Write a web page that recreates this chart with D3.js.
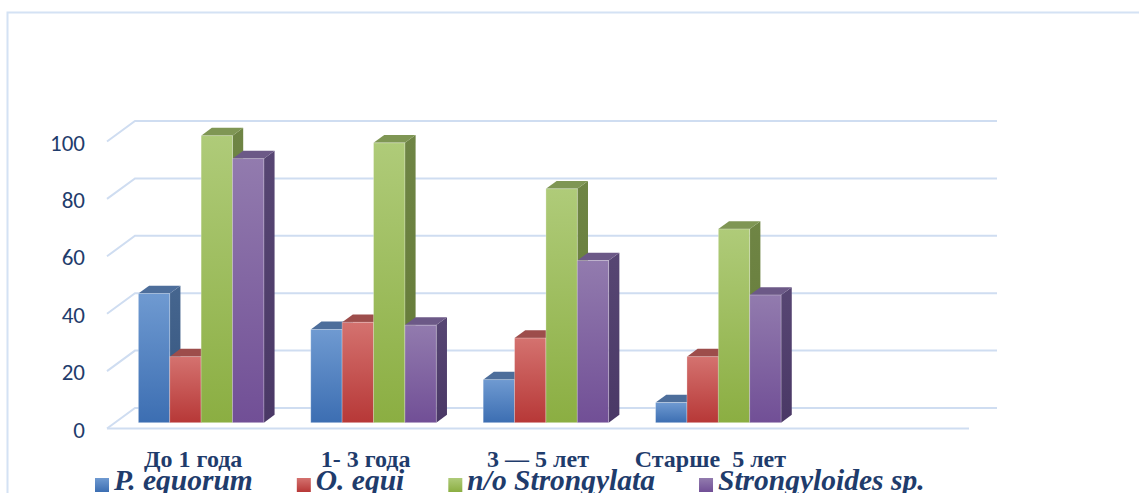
<!DOCTYPE html>
<html>
<head>
<meta charset="utf-8">
<script src="https://cdn.jsdelivr.net/npm/d3@7"></script>
<style>
  html, body { margin: 0; padding: 0; background: #ffffff; }
  svg { display: block; }
</style>
</head>
<body>
<svg id="chart" width="1139" height="493"></svg>
<script>
// Age groups and parasite prevalence (%) per group
const categories = ["До 1 года", "1- 3 года", "3 — 5 лет", "Старше  5 лет"];
const seriesNames = ["P. equorum", "O. equi", "n/o Strongylata", "Strongyloides sp."];
const pEquorum      = [45, 32.5, 15, 7];
const oEqui         = [23, 35, 29.5, 23];
const strongylata   = [100, 97.5, 81.5, 67.5];
const strongyloides = [92, 34, 56.5, 44.5];
const yTicks = [0, 20, 40, 60, 80, 100];

const seriesValues = [pEquorum, oEqui, strongylata, strongyloides];

// face colours: front gradient (top, bottom), side gradient (top, bottom), cap
const palette = [
  { front: ["#6f9ad1", "#3c6eb2"], side: ["#46668f", "#34547e"], cap: "#4d6e9b" },
  { front: ["#d4726f", "#b73837"], side: ["#9a4341", "#85302f"], cap: "#9d4d4b" },
  { front: ["#afcb79", "#8bae42"], side: ["#6f8545", "#647a36"], cap: "#7f9654" },
  { front: ["#927bae", "#714f96"], side: ["#574673", "#4a3866"], cap: "#6c5987" }
];

const svg = d3.select("#chart");
const W = 1139, H = 493;

// 3-D box geometry: floor front edge and wall depth offset
const floor = { x0: 107, x1: 969, depthX: 28, depthY: 20.5 };
const barDepth = [0.283, 0.665];   // fraction of wall depth occupied by bars

const y = d3.scaleLinear().domain([0, 100]).range([428.5, 141.5]);
// five slots along the floor, the last one stays empty
const slot = (floor.x1 - floor.x0) / 5;
const x0 = d3.scaleBand().domain(categories).range([floor.x0, floor.x0 + slot * categories.length]);
const bw = x0.bandwidth();
const x1 = d3.scaleBand().domain(seriesNames).range([bw * 0.136, bw * 0.864]);

const proj = (x, v, t) => [x + t * floor.depthX, y(v) - t * floor.depthY];

// gradients
const defs = svg.append("defs");
palette.forEach((p, i) => {
  const g = defs.append("linearGradient").attr("id", "front" + i)
    .attr("x1", 0).attr("y1", 0).attr("x2", 0).attr("y2", 1);
  g.append("stop").attr("offset", "0%").attr("stop-color", p.front[0]);
  g.append("stop").attr("offset", "100%").attr("stop-color", p.front[1]);
  const s = defs.append("linearGradient").attr("id", "side" + i)
    .attr("x1", 0).attr("y1", 0).attr("x2", 0).attr("y2", 1);
  s.append("stop").attr("offset", "0%").attr("stop-color", p.side[0]);
  s.append("stop").attr("offset", "100%").attr("stop-color", p.side[1]);
});

// outer frame
svg.append("path")
  .attr("d", `M7.5,${H} V12.5 H${W}`)
  .attr("fill", "none").attr("stroke", "#d4e2f4").attr("stroke-width", 2);

// back wall grid + side wall diagonals
const gridColor = "#cfddf1";
const grid = svg.append("g").attr("fill", "none").attr("stroke", gridColor).attr("stroke-width", 2);
yTicks.forEach(v => {
  const a = proj(floor.x0, v, 0), b = proj(floor.x0, v, 1), c = proj(floor.x1, v, 1);
  grid.append("path").attr("d", `M${a[0]},${a[1]} L${b[0]},${b[1]} L${c[0]},${c[1]}`);
});
// floor front edge
grid.append("line")
  .attr("x1", floor.x0).attr("x2", floor.x1)
  .attr("y1", y(0)).attr("y2", y(0));

// y tick labels
svg.append("g").selectAll("text").data(yTicks).join("text")
  .attr("x", 85).attr("y", d => y(d) + 9)
  .attr("text-anchor", "end")
  .attr("font-family", "Carlito, Lato, 'Open Sans', sans-serif")
  .attr("font-size", 23)
  .attr("fill", "#1f3c6c")
  .text(d => d);

// bars
const bars = svg.append("g");
categories.forEach((cat, ci) => {
  seriesNames.forEach((name, si) => {
    const v = seriesValues[si][ci];
    const bx = x0(cat) + x1(name), w = x1.bandwidth();
    const [t0, t1] = barDepth;
    const f0 = proj(bx, v, t0), f1 = proj(bx + w, 0, t0);
    const g = bars.append("g");
    // side face
    const s = [proj(bx + w, 0, t0), proj(bx + w, 0, t1), proj(bx + w, v, t1), proj(bx + w, v, t0)];
    g.append("path").attr("d", "M" + s.join("L") + "Z").attr("fill", `url(#side${si})`);
    // cap
    const c = [proj(bx, v, t0), proj(bx + w, v, t0), proj(bx + w, v, t1), proj(bx, v, t1)];
    g.append("path").attr("d", "M" + c.join("L") + "Z").attr("fill", palette[si].cap);
    // front face
    g.append("rect")
      .attr("x", f0[0]).attr("y", f0[1])
      .attr("width", f1[0] - f0[0]).attr("height", f1[1] - f0[1])
      .attr("fill", `url(#front${si})`)
      .attr("stroke", "rgba(255,255,255,0.35)").attr("stroke-width", 0.8);
  });
});

// category labels
svg.append("g").selectAll("text").data(categories).join("text")
  .attr("x", d => x0(d) + bw / 2)
  .attr("y", 467)
  .attr("text-anchor", "middle")
  .attr("font-family", "'Liberation Serif', 'Times New Roman', serif")
  .attr("font-weight", "bold")
  .attr("font-size", 24)
  .attr("fill", "#1f3c6c")
  .style("white-space", "pre")
  .text(d => d);

// legend
const legend = svg.append("g");
let lx = 95;
seriesNames.forEach((name, i) => {
  legend.append("rect")
    .attr("x", lx).attr("y", 478).attr("width", 14).attr("height", 14)
    .attr("fill", `url(#front${i})`);
  const t = legend.append("text")
    .attr("x", lx + 19).attr("y", 490)
    .attr("font-family", "'Liberation Serif', 'Times New Roman', serif")
    .attr("font-weight", "bold").attr("font-style", "italic")
    .attr("font-size", 29.5)
    .attr("fill", "#1f3c6c")
    .text(name);
  lx += 19 + t.node().getComputedTextLength() + 44;
});
</script>
</body>
</html>
